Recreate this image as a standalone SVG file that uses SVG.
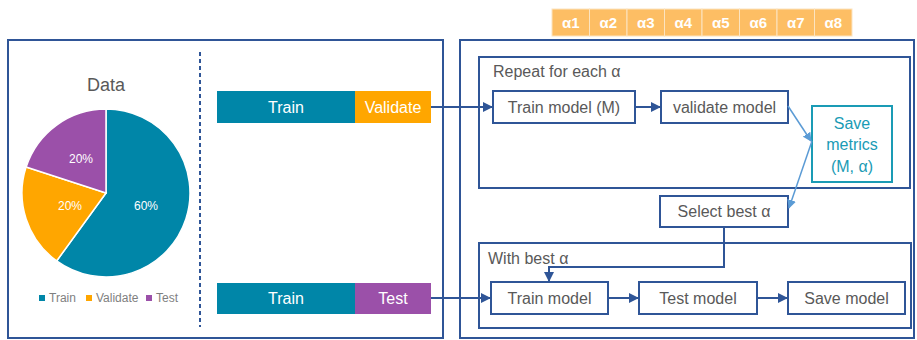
<svg xmlns="http://www.w3.org/2000/svg" width="917" height="340" viewBox="0 0 917 340">
<defs>
<style>
.panel{fill:none;stroke:#2F5597;stroke-width:2}
.box{fill:#fff;stroke:#2F5597;stroke-width:2}
.grp{fill:none;stroke:#2F5597;stroke-width:2}
.t{font-family:"Liberation Sans",Arial,sans-serif;fill:#595959;font-size:16px;text-anchor:middle}
.tl{font-family:"Liberation Sans",Arial,sans-serif;fill:#595959;font-size:16px}
.w{font-family:"Liberation Sans",Arial,sans-serif;fill:#fff;font-size:16px;text-anchor:middle}
.pl{font-family:"Liberation Sans",Arial,sans-serif;fill:#fff;font-size:12px;text-anchor:middle}
.lg{font-family:"Liberation Sans",Arial,sans-serif;fill:#7f7f7f;font-size:12px}
.al{fill:#FDBE64;stroke:#FCE4C0;stroke-width:1}
.at{font-family:"Liberation Sans",Arial,sans-serif;fill:#fff;font-size:15px;font-weight:bold;text-anchor:middle}
.conn{fill:none;stroke:#2F5597;stroke-width:2}
.lconn{fill:none;stroke:#5B9BD5;stroke-width:1.5}
</style>
<marker id="ah" viewBox="0 0 10 10" refX="9" refY="5" markerWidth="5" markerHeight="5" orient="auto"><path d="M0,0 L10,5 L0,10 z" fill="#2F5597"/></marker>
<marker id="lah" viewBox="0 0 10 10" refX="9" refY="5" markerWidth="6" markerHeight="6" orient="auto"><path d="M0,0 L10,5 L0,10 z" fill="#5B9BD5"/></marker>
</defs>
<rect width="917" height="340" fill="#fff"/>

<g id="left-panel">
<rect class="panel" x="8" y="40" width="435" height="298"/>
<line x1="200" y1="52" x2="200" y2="327" stroke="#2F5597" stroke-width="2" stroke-dasharray="4,3"/>
</g>

<g id="pie-chart">
<text x="106" y="91" style="font-family:'Liberation Sans',Arial,sans-serif;font-size:18px;fill:#595959;text-anchor:middle">Data</text>
<path d="M106,193 L106,109 A84,84 0 1 1 56.63,260.96 Z" fill="#0086A8" stroke="#fff" stroke-width="1.5"/>
<path d="M106,193 L56.63,260.96 A84,84 0 0 1 26.11,167.04 Z" fill="#FFA600" stroke="#fff" stroke-width="1.5"/>
<path d="M106,193 L26.11,167.04 A84,84 0 0 1 106,109 Z" fill="#9B50A9" stroke="#fff" stroke-width="1.5"/>
<text class="pl" x="146" y="210">60%</text>
<text class="pl" x="70" y="210">20%</text>
<text class="pl" x="81" y="163">20%</text>
<rect x="39" y="295" width="6" height="6" fill="#0086A8"/>
<text class="lg" x="49" y="302">Train</text>
<rect x="86" y="295" width="6" height="6" fill="#FFA600"/>
<text class="lg" x="96" y="302">Validate</text>
<rect x="146" y="295" width="6" height="6" fill="#9B50A9"/>
<text class="lg" x="156" y="302">Test</text>
</g>

<g id="train-validate-bar">
<rect x="217" y="91" width="138" height="32" fill="#0086A8"/>
<rect x="355" y="91" width="76" height="32" fill="#FFA600"/>
<text class="w" x="286" y="113">Train</text>
<text class="w" x="393" y="113">Validate</text>
</g>

<g id="train-test-bar">
<rect x="217" y="283" width="138" height="31" fill="#0086A8"/>
<rect x="355" y="283" width="76" height="31" fill="#9B50A9"/>
<text class="w" x="286" y="304">Train</text>
<text class="w" x="393" y="304">Test</text>
</g>

<g id="alphas">
<rect class="al" x="552" y="9" width="37.5" height="27"/>
<rect class="al" x="589.5" y="9" width="37.5" height="27"/>
<rect class="al" x="627" y="9" width="37.5" height="27"/>
<rect class="al" x="664.5" y="9" width="37.5" height="27"/>
<rect class="al" x="702" y="9" width="37.5" height="27"/>
<rect class="al" x="739.5" y="9" width="37.5" height="27"/>
<rect class="al" x="777" y="9" width="37.5" height="27"/>
<rect class="al" x="814.5" y="9" width="37.5" height="27"/>
<text class="at" x="570.75" y="28">α1</text>
<text class="at" x="608.25" y="28">α2</text>
<text class="at" x="645.75" y="28">α3</text>
<text class="at" x="683.25" y="28">α4</text>
<text class="at" x="720.75" y="28">α5</text>
<text class="at" x="758.25" y="28">α6</text>
<text class="at" x="795.75" y="28">α7</text>
<text class="at" x="833.25" y="28">α8</text>
</g>

<g id="right-panel">
<rect class="panel" x="460" y="40" width="454" height="298"/>
</g>

<g id="repeat-group">
<rect class="grp" x="479" y="57" width="431" height="131"/>
<text class="tl" x="493" y="77">Repeat for each α</text>
</g>

<g id="train-model-m">
<rect class="box" x="493" y="91" width="142" height="32"/>
<text class="t" x="564" y="113">Train model (M)</text>
</g>

<g id="validate-model">
<rect class="box" x="661" y="91" width="127" height="32"/>
<text class="t" x="724.5" y="113">validate model</text>
</g>

<g id="save-metrics">
<rect x="812" y="106" width="80" height="76" fill="#fff" stroke="#1A9BB5" stroke-width="2"/>
<text class="t" x="852" y="129" style="fill:#1A9BB5">Save</text>
<text class="t" x="852" y="150" style="fill:#1A9BB5">metrics</text>
<text class="t" x="852" y="172" style="fill:#1A9BB5">(M, α)</text>
</g>

<g id="select-best">
<rect class="box" x="660" y="196" width="128" height="31"/>
<text class="t" x="724" y="217">Select best α</text>
</g>

<g id="with-best-group">
<rect class="grp" x="479" y="243" width="432" height="85"/>
<text class="tl" x="488" y="264">With best α</text>
</g>

<g id="train-model">
<rect class="box" x="491" y="282" width="117" height="32"/>
<text class="t" x="549.5" y="304">Train model</text>
</g>

<g id="test-model">
<rect class="box" x="639" y="282" width="118" height="32"/>
<text class="t" x="698" y="304">Test model</text>
</g>

<g id="save-model">
<rect class="box" x="788" y="282" width="117" height="32"/>
<text class="t" x="846.5" y="304">Save model</text>
</g>

<g id="connectors">
<path class="conn" d="M431,107 L492,107" marker-end="url(#ah)"/>
<path class="conn" d="M635,107 L660,107" marker-end="url(#ah)"/>
<path class="conn" d="M431,298 L490,298" marker-end="url(#ah)"/>
<path class="conn" d="M608,298 L638,298" marker-end="url(#ah)"/>
<path class="conn" d="M757,298 L787,298" marker-end="url(#ah)"/>
<path class="conn" d="M724,227 L724,267 L549,267 L549,281" marker-end="url(#ah)"/>
<path class="lconn" d="M788,106 L811,141" marker-end="url(#lah)"/>
<path class="lconn" d="M812,141 L789,208" marker-end="url(#lah)"/>
</g>
</svg>
